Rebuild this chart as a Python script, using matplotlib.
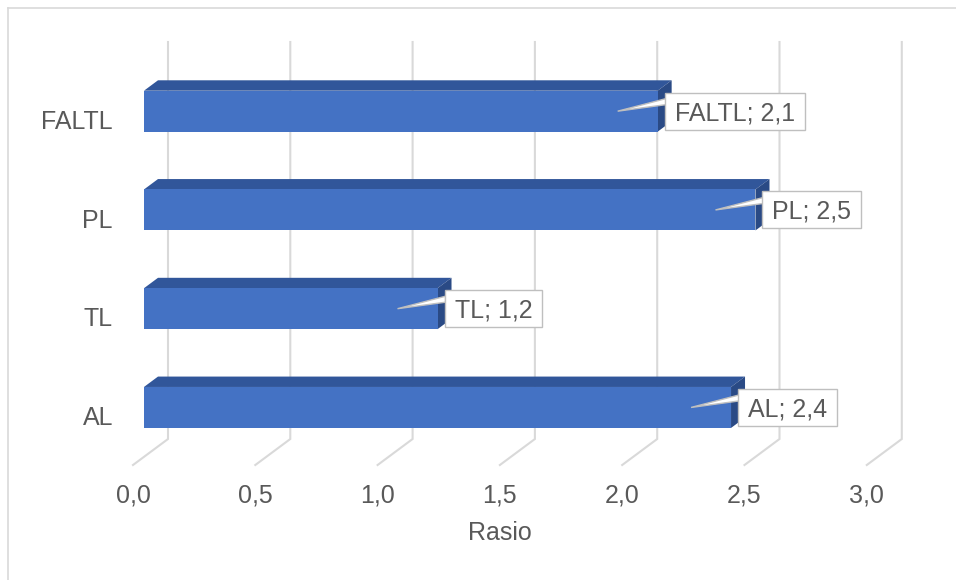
import numpy as np
import matplotlib
matplotlib.use("Agg")
import matplotlib.pyplot as plt
from matplotlib.patches import Polygon, Rectangle
from matplotlib.lines import Line2D
from matplotlib.transforms import IdentityTransform

# ---- data ----
categories = ["AL", "TL", "PL", "FALTL"]
values = [2.4, 1.2, 2.5, 2.1]
x_ticks = [0.0, 0.5, 1.0, 1.5, 2.0, 2.5, 3.0]
x_tick_labels = ["0,0", "0,5", "1,0", "1,5", "2,0", "2,5", "3,0"]
x_title = "Rasio"

# ---- style ----
FONT = "Liberation Sans"
TEXT = "#595959"
GRID = "#D9D9D9"
FRONT = "#4472C4"
TOP = "#31569A"
SIDE = "#2A4A85"
FS = 18

# oblique depth vector (pixels) from the front plane to the back wall
DX, DY = 35.0, 26.0
K_FRONT, K_BACK = 0.314, 0.714   # bar front / back depth fractions
BAR_H = 0.415

W, H, DPI = 956, 580, 100
fig = plt.figure(figsize=(W / DPI, H / DPI), dpi=DPI)
fig.patch.set_facecolor("white")

ax = fig.add_axes([133 / W, (H - 465) / H, 733.8 / W, 397 / H])
ax.set_xlim(0, 3)
ax.set_ylim(-0.5, 3.52)
ax.patch.set_alpha(0)
for s in ax.spines.values():
    s.set_visible(False)

ax.set_xticks(x_ticks)
ax.set_xticklabels(x_tick_labels)
ax.set_yticks(range(len(categories)))
ax.set_yticklabels(categories)
ax.tick_params(axis="x", length=0, pad=13.5, labelsize=FS, labelcolor=TEXT)
ax.tick_params(axis="y", length=0, pad=14.4, labelsize=FS, labelcolor=TEXT)
for lbl in ax.get_xticklabels() + ax.get_yticklabels():
    lbl.set_fontfamily(FONT)
ax.set_xlabel(x_title, fontsize=FS, color=TEXT, fontfamily=FONT, labelpad=9.5)

ID = IdentityTransform()


def disp(x, y, k=0.0):
    p = ax.transData.transform((x, y))
    return np.array([p[0] + k * DX, p[1] + k * DY])


# ---- gridlines: floor diagonal + back wall vertical ----
y0, y1 = ax.get_ylim()
for t in x_ticks:
    a = disp(t, y0, 0)
    b = disp(t, y0, 1)
    c = disp(t, y1, 1)
    ax.add_line(Line2D([a[0], b[0], c[0]], [a[1], b[1], c[1]], color=GRID,
                       lw=1.5, transform=ID, clip_on=False, zorder=1,
                       solid_joinstyle="miter"))

# ---- 3D bars ----
for i, (cat, v) in enumerate(zip(categories, values)):
    yb, yt = i - BAR_H / 2, i + BAR_H / 2
    fbl, fbr = disp(0, yb, K_FRONT), disp(v, yb, K_FRONT)
    ftl, ftr = disp(0, yt, K_FRONT), disp(v, yt, K_FRONT)
    btl, btr = disp(0, yt, K_BACK), disp(v, yt, K_BACK)
    bbr = disp(v, yb, K_BACK)
    ax.add_patch(Polygon([ftl, ftr, btr, btl], closed=True, fc=TOP, ec="none",
                         transform=ID, clip_on=False, zorder=3))
    ax.add_patch(Polygon([fbr, bbr, btr, ftr], closed=True, fc=SIDE, ec="none",
                         transform=ID, clip_on=False, zorder=3))
    ax.add_patch(Polygon([fbl, fbr, ftr, ftl], closed=True, fc=FRONT, ec="none",
                         transform=ID, clip_on=False, zorder=3))

# ---- callout labels ----
fig.canvas.draw()
renderer = fig.canvas.get_renderer()
cap = 0.716 * FS * DPI / 72.0
for i, (cat, v) in enumerate(zip(categories, values)):
    end = disp(v, i, K_FRONT)
    cx, cy = end[0], end[1]
    box_left = cx + 7
    pad_x = 10
    label = f"{cat}; {v:.1f}".replace(".", ",")
    txt = ax.text(box_left + pad_x, cy - cap / 2, label, fontsize=FS,
                  color=TEXT, fontfamily=FONT, ha="left", va="baseline",
                  transform=ID, zorder=7, clip_on=False)
    ext = txt.get_window_extent(renderer)
    bw = ext.width + 2 * pad_x
    bh = 37
    tip = (cx - 40, cy)
    ax.add_patch(Polygon([tip, (box_left + 1, cy + 12.5), (box_left + 1, cy + 6.5)],
                         closed=True, fc="white", ec="#BFBFBF", lw=1.0,
                         transform=ID, clip_on=False, zorder=5))
    ax.add_patch(Rectangle((box_left, cy - bh / 2), bw, bh, fc="white",
                           ec="#BFBFBF", lw=1.0, transform=ID, clip_on=False,
                           zorder=6))

# ---- chart-area frame (left and top edges) ----
fig.add_artist(Line2D([7.5, 7.5], [-5, H - 7.5], color=GRID, lw=1.2,
                      transform=ID))
fig.add_artist(Line2D([7.5, W + 5], [H - 7.5, H - 7.5], color=GRID, lw=1.2,
                      transform=ID))

fig.savefig("out.png", dpi=DPI)
